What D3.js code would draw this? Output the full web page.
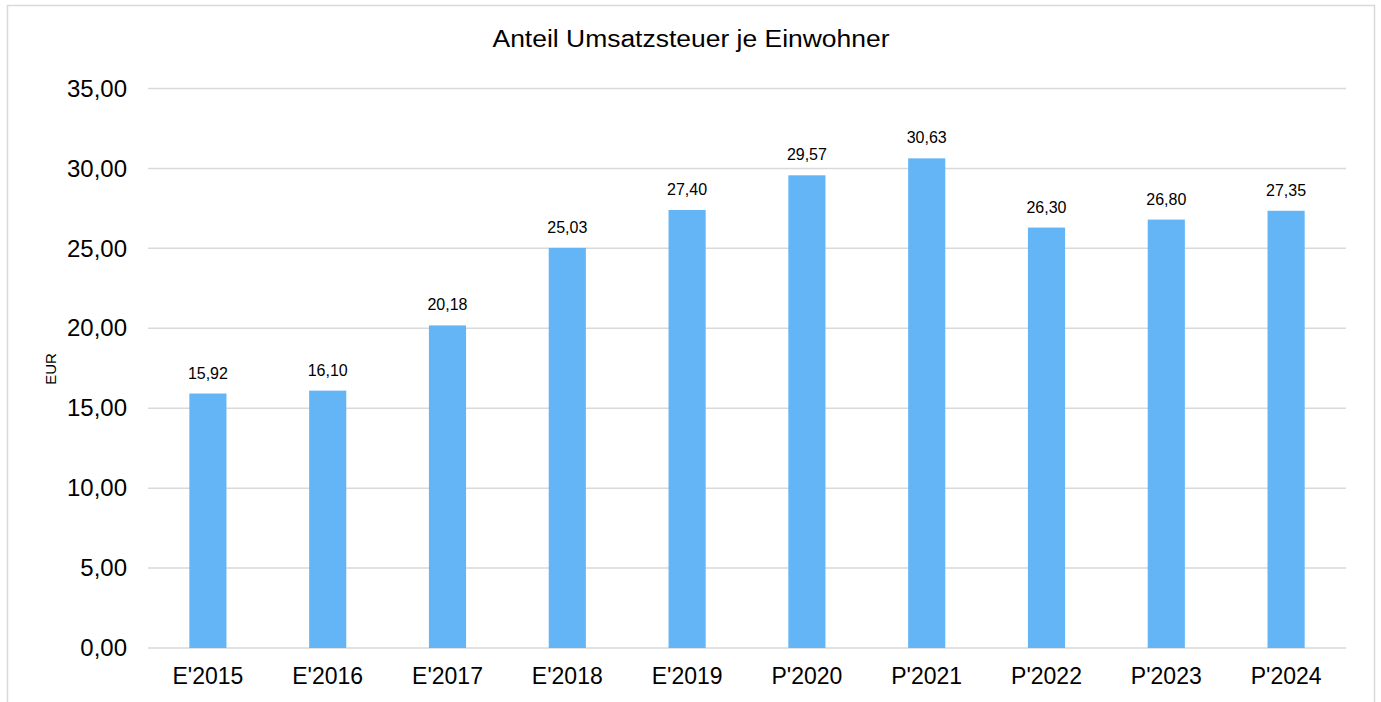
<!DOCTYPE html>
<html>
<head>
<meta charset="utf-8">
<script src="https://cdn.jsdelivr.net/npm/d3@7"></script>
<style>
  body { margin: 0; background: #fff; }
  text { font-family: "Liberation Sans", Arial, sans-serif; fill: #000; }
</style>
</head>
<body>
<svg id="chart" width="1381" height="702"></svg>
<script>
var categories = ["E'2015", "E'2016", "E'2017", "E'2018", "E'2019", "P'2020", "P'2021", "P'2022", "P'2023", "P'2024"];
var values = [15.92, 16.10, 20.18, 25.03, 27.40, 29.57, 30.63, 26.30, 26.80, 27.35];
var yTicks = [0, 5, 10, 15, 20, 25, 30, 35];

var fmt = function(v) { return v.toFixed(2).replace(".", ","); };

var svg = d3.select("#chart");
var margin = { left: 148, right: 35, top: 88.5, bottom: 54 };
var width = 1381, height = 702;

// chart frame
svg.append("rect")
    .attr("x", 7.5).attr("y", 5.5)
    .attr("width", 1367).attr("height", 720)
    .attr("fill", "none")
    .attr("stroke", "#d9d9d9")
    .attr("stroke-width", 1.5);

var x = d3.scaleBand()
    .domain(categories)
    .range([margin.left, width - margin.right])
    .paddingInner(0.69)
    .paddingOuter(0.345);

var y = d3.scaleLinear()
    .domain([0, 35])
    .range([648, margin.top]);

// gridlines
svg.append("g")
    .selectAll("line")
    .data(yTicks)
    .enter()
    .append("line")
    .attr("x1", margin.left)
    .attr("x2", width - margin.right)
    .attr("y1", function(d) { return y(d); })
    .attr("y2", function(d) { return y(d); })
    .attr("stroke", "#d9d9d9")
    .attr("stroke-width", 1.5);

// y axis labels
var yAxis = d3.axisLeft(y).tickValues(yTicks).tickFormat(fmt).tickSize(0).tickPadding(21);
svg.append("g")
    .attr("transform", "translate(" + margin.left + ",0)")
    .call(yAxis)
    .call(function(g) { g.select(".domain").remove(); })
    .selectAll("text")
    .attr("font-size", "24px")
    .attr("font-family", "Liberation Sans, Arial, sans-serif")
    .attr("fill", "#000");

// x axis labels
var xAxis = d3.axisBottom(x).tickSize(0).tickPadding(20);
svg.append("g")
    .attr("transform", "translate(0," + y(0) + ")")
    .call(xAxis)
    .call(function(g) { g.select(".domain").remove(); })
    .selectAll("text")
    .attr("font-size", "23px")
    .attr("font-family", "Liberation Sans, Arial, sans-serif")
    .attr("fill", "#000");

// bars
svg.append("g")
    .selectAll("rect")
    .data(values)
    .enter()
    .append("rect")
    .attr("x", function(d, i) { return x(categories[i]); })
    .attr("y", function(d) { return y(d); })
    .attr("width", x.bandwidth())
    .attr("height", function(d) { return y(0) - y(d); })
    .attr("fill", "#64b5f6");

// value labels
svg.append("g")
    .selectAll("text")
    .data(values)
    .enter()
    .append("text")
    .attr("x", function(d, i) { return x(categories[i]) + x.bandwidth() / 2; })
    .attr("y", function(d) { return y(d) - 15; })
    .attr("text-anchor", "middle")
    .attr("font-size", "16px")
    .text(fmt);

// title
svg.append("text")
    .attr("x", 691)
    .attr("y", 47)
    .attr("text-anchor", "middle")
    .attr("font-size", "23px")
    .attr("textLength", 397)
    .attr("lengthAdjust", "spacingAndGlyphs")
    .text("Anteil Umsatzsteuer je Einwohner");

// y axis title
svg.append("text")
    .attr("transform", "translate(56,369) rotate(-90)")
    .attr("text-anchor", "middle")
    .attr("font-size", "15px")
    .text("EUR");
</script>
</body>
</html>
